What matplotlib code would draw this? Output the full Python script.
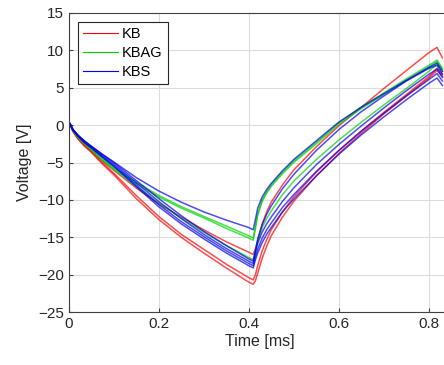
import matplotlib
matplotlib.use("Agg")
import matplotlib.pyplot as plt

plt.rcParams['font.family'] = ['Liberation Sans', 'DejaVu Sans']

# time samples [ms]
t = [0, 0.005, 0.01, 0.02, 0.035, 0.05, 0.075, 0.1, 0.15, 0.2, 0.25, 0.3, 0.35, 0.4, 0.41,
     0.415, 0.42, 0.43, 0.44, 0.45, 0.475, 0.5, 0.55, 0.6, 0.65, 0.7, 0.75, 0.8, 0.818, 0.83]

# KB (red) curves
kb = [
    [0.5, -0.1, -0.8, -1.6, -2.6, -3.4, -4.8, -6.0, -8.4, -10.5, -12.3, -14.0, -15.6, -17.0, -17.3,
     -16.5, -15.5, -13.2, -11.6, -10.3, -8.0, -6.0, -2.9, -0.1, 2.4, 4.9, 7.3, 9.7, 10.4, 9.0],
    [0.5, -0.1, -0.8, -1.7, -2.7, -3.5, -5.0, -6.4, -9.4, -12.2, -14.6, -16.6, -18.6, -20.4, -20.7,
     -20.0, -18.8, -16.8, -15.3, -14.0, -11.6, -9.6, -6.3, -3.4, -0.8, 1.7, 4.1, 6.5, 7.6, 6.8],
    [0.5, -0.2, -0.9, -1.8, -2.8, -3.6, -5.2, -6.6, -9.8, -12.6, -15.0, -17.1, -19.1, -21.0, -21.3,
     -20.8, -19.8, -17.8, -16.2, -14.8, -12.3, -10.2, -6.8, -3.8, -1.1, 1.5, 3.9, 6.3, 7.3, 6.5],
]

# KBAG (green) curves
kbag = [
    [0.5, -0.1, -0.7, -1.5, -2.4, -3.1, -4.4, -5.6, -7.6, -9.4, -10.9, -12.2, -13.5, -14.8, -15.1,
     -13.5, -11.8, -10.0, -8.9, -8.0, -6.3, -4.8, -2.3, 0.3, 2.4, 4.3, 6.2, 8.0, 8.7, 7.6],
    [0.5, -0.1, -0.7, -1.5, -2.4, -3.2, -4.6, -5.8, -7.8, -9.6, -11.1, -12.4, -13.8, -15.1, -15.4,
     -13.8, -12.1, -10.2, -9.1, -8.2, -6.5, -5.0, -2.5, 0.1, 2.2, 4.1, 6.0, 7.8, 8.5, 7.4],
    [0.5, -0.1, -0.8, -1.6, -2.5, -3.3, -4.7, -5.9, -8.2, -10.4, -12.4, -14.3, -16.1, -17.7, -18.0,
     -16.8, -15.5, -13.7, -12.5, -11.5, -9.3, -7.5, -4.6, -2.0, 0.4, 2.7, 4.9, 7.2, 8.2, 7.2],
]

# KBS (blue) curves
kbs = [
    [0.5, 0.0, -0.6, -1.3, -2.1, -2.8, -3.9, -4.9, -7.0, -8.8, -10.3, -11.6, -12.7, -13.7, -14.0,
     -12.6, -11.1, -9.6, -8.6, -7.8, -6.1, -4.6, -2.1, 0.4, 2.4, 4.2, 6.0, 7.7, 8.3, 7.2],
    [0.5, 0.0, -0.6, -1.3, -2.1, -2.8, -3.9, -5.0, -7.4, -9.8, -12.1, -14.2, -16.1, -17.9, -18.2,
     -16.8, -15.2, -13.3, -11.9, -10.8, -8.5, -6.6, -3.4, -0.6, 1.8, 3.9, 5.9, 7.6, 8.0, 6.8],
    [0.5, 0.0, -0.6, -1.3, -2.2, -2.9, -4.1, -5.2, -7.7, -10.2, -12.5, -14.6, -16.5, -18.2, -18.5,
     -17.0, -15.8, -14.3, -13.2, -12.3, -10.2, -8.4, -5.3, -2.6, -0.1, 2.3, 4.6, 6.8, 7.5, 6.4],
    [0.5, 0.0, -0.6, -1.4, -2.3, -3.0, -4.2, -5.4, -8.0, -10.6, -12.9, -14.9, -16.8, -18.5, -18.8,
     -17.6, -16.6, -15.1, -14.0, -13.1, -11.0, -9.3, -6.2, -3.4, -0.8, 1.6, 3.9, 6.1, 6.9, 5.9],
    [0.5, -0.1, -0.7, -1.4, -2.3, -3.0, -4.3, -5.5, -8.2, -10.9, -13.2, -15.2, -17.1, -18.8, -19.1,
     -18.0, -17.1, -15.7, -14.6, -13.7, -11.6, -9.9, -6.8, -3.9, -1.3, 1.1, 3.4, 5.6, 6.3, 5.3],
]

labels = ["KB", "KBAG", "KBS"]
colors = ["#ff0000", "#00d000", "#0000ee"]
groups = [kb, kbag, kbs]

W, H = 444, 365
fig = plt.figure(figsize=(W / 100, H / 100), dpi=100)
left_px, right_px, top_px, bot_px = 68.5, 68.5 + 0.85 * 450.5, 13, 312
ax = fig.add_axes([left_px / W, 1 - bot_px / H, (right_px - left_px) / W, (bot_px - top_px) / H])

for grp, c, lab in zip(groups, colors, labels):
    for i, y in enumerate(grp):
        ax.plot(t, y, color=c, lw=1.1, alpha=0.7, label=lab if i == 0 else None)

ax.set_xlim(0, 0.85)
ax.set_ylim(-25, 15)
ax.set_xticks([0, 0.2, 0.4, 0.6, 0.8])
ax.set_xticklabels(["0", "0.2", "0.4", "0.6", "0.8"])
ax.set_yticks(range(-25, 16, 5))
ax.grid(True, color="#dcdcdc", lw=0.8)
ax.set_axisbelow(True)
for s in ax.spines.values():
    s.set_color("#404040")
    s.set_linewidth(0.8)
ax.tick_params(direction="in", length=3, colors="#404040", labelsize=11, labelcolor="#262626")
ax.set_xlabel("Time [ms]", fontsize=11.5, color="#262626", labelpad=2)
ax.set_ylabel("Voltage [V]", fontsize=11.5, color="#262626", labelpad=4)

leg = ax.legend(loc="upper left", bbox_to_anchor=(0.025, 0.97), fontsize=10.5,
                frameon=True, fancybox=False, edgecolor="#262626", framealpha=1,
                handlelength=2.4, handletextpad=0.25, borderpad=0.35, labelspacing=0.33,
                borderaxespad=0)
leg.get_frame().set_linewidth(0.8)
for h in leg.get_lines():
    h.set_alpha(1)
    h.set_linewidth(0.8)

fig.savefig("out.png", dpi=100)
